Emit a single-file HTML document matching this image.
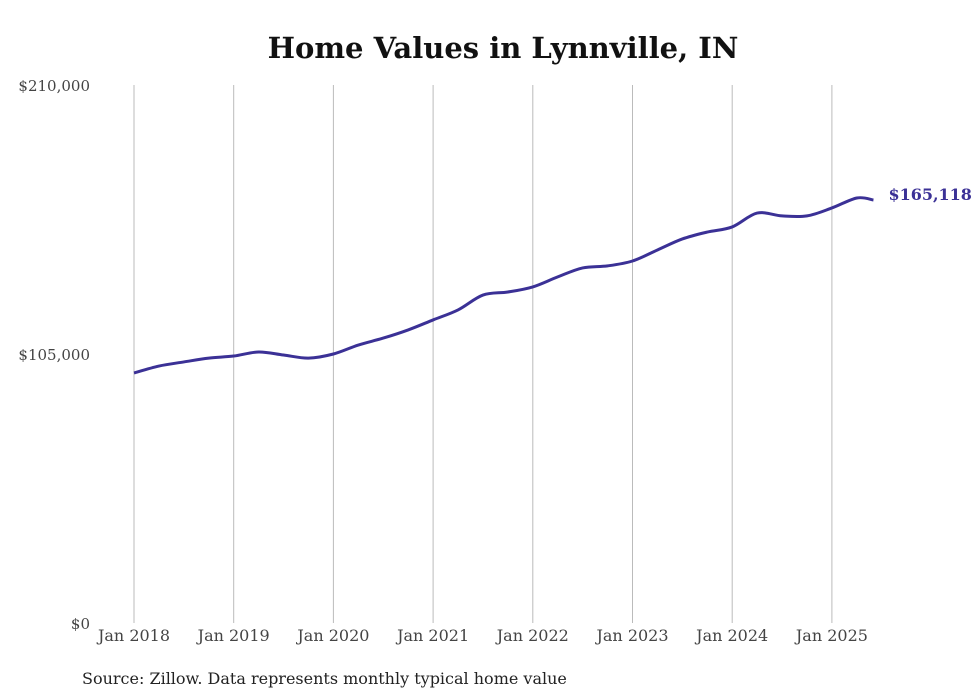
<!DOCTYPE html>
<html><head><meta charset="utf-8"><style>
body{margin:0;background:#fff;}
svg{display:block;font-family:"DejaVu Serif","Liberation Serif",serif;}
</style></head><body>
<svg id="chart" width="980" height="699">
<text x="503" y="58" text-anchor="middle" font-size="29" font-weight="bold" fill="#111">Home Values in Lynnville, IN</text>
<g id="grid"></g><g id="yt"></g><g id="xt"></g><g id="series"></g>
<text x="82" y="684" font-size="16" fill="#222">Source: Zillow. Data represents monthly typical home value</text>
</svg>
<script>
const yTicks=[0,105000,210000];
const yTickLabels=["$0","$105,000","$210,000"];
const xYears=[2018,2019,2020,2021,2022,2023,2024,2025];
const months=[0,3,6,9,12,15,18,21,24,27,30,33,36,39,42,45,48,51,54,57,60,63,66,69,72,75,78,81,84,87,89];
const values=[97600,100300,101900,103400,104200,105800,104600,103400,105000,108500,111200,114400,118300,122200,128000,129200,131200,135100,138600,139400,141300,145600,149900,152600,154600,160000,158900,158900,162000,165900,165118];
const lastLabel="$165,118";
const NS="http://www.w3.org/2000/svg";
const y=v=>623-v/210000*538;
const x=m=>134+m/12*99.7;
function mk(t,a,p){const e=document.createElementNS(NS,t);for(const k in a)e.setAttribute(k,a[k]);document.getElementById(p).appendChild(e);return e;}
yTicks.forEach((v,i)=>{const t=mk('text',{x:90,y:y(v)+6,'text-anchor':'end','font-size':15,fill:'#444'},'yt');t.textContent=yTickLabels[i];

});
xYears.forEach(yr=>{const xx=x((yr-2018)*12);
const l=mk('line',{x1:xx,x2:xx,y1:85,y2:623,stroke:'#bbb','stroke-width':1},'grid');


const t=mk('text',{x:xx,y:641,'text-anchor':'middle','font-size':16,fill:'#444'},'xt');t.textContent='Jan '+yr;

});
const P=months.map((m,i)=>[x(m),y(values[i])]);
let d='M'+P[0][0]+','+P[0][1];
for(let i=0;i<P.length-1;i++){const p0=P[i-1]||P[i],p1=P[i],p2=P[i+1],p3=P[i+2]||p2;
d+=` C${p1[0]+(p2[0]-p0[0])/6},${p1[1]+(p2[1]-p0[1])/6} ${p2[0]-(p3[0]-p1[0])/6},${p2[1]-(p3[1]-p1[1])/6} ${p2[0]},${p2[1]}`;}
const path=mk('path',{d:d,fill:'none',stroke:'#3b3196','stroke-width':3,'stroke-linejoin':'round'},'series');


const last=P[P.length-1];
const lt=mk('text',{x:last[0]+15,y:last[1],'font-size':16,'font-weight':'bold',fill:'#3b3196'},'series');lt.textContent=lastLabel;


</script>
</body></html>
